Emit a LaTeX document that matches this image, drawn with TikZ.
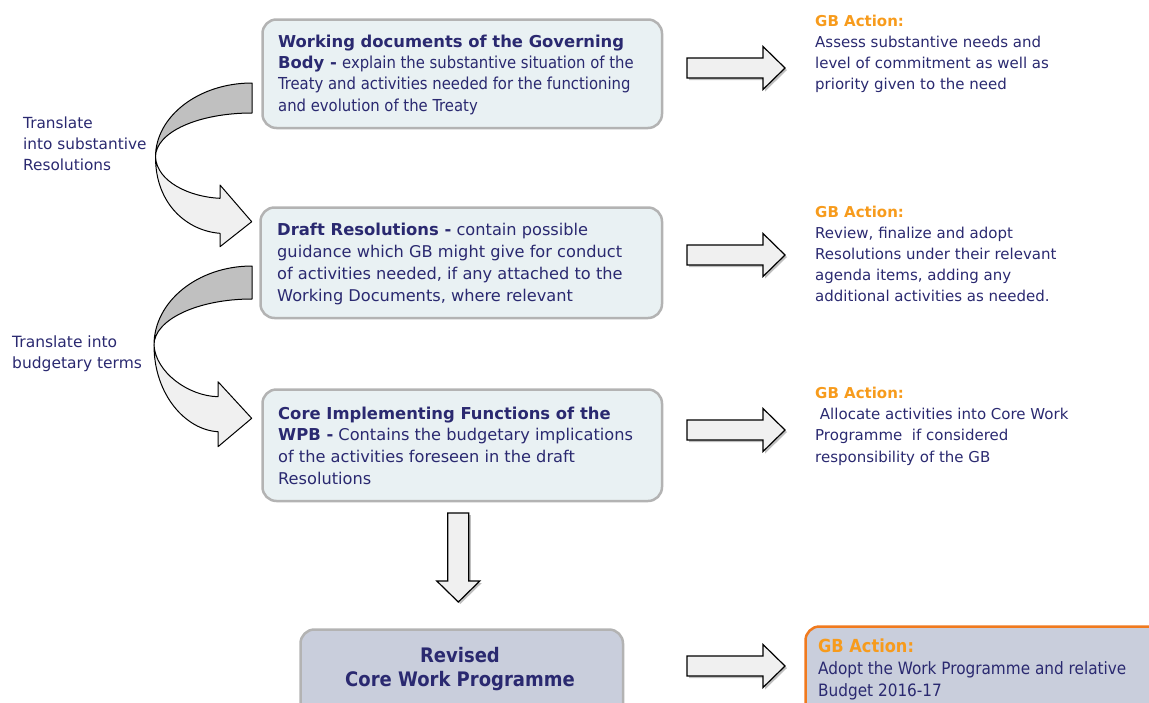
\documentclass[tikz,border=0pt]{standalone}
\usepackage{fontspec}
\setmainfont{DejaVu Sans}
\newfontfamily\cond{DejaVu Sans Condensed}
\definecolor{navy}{HTML}{2A2970}
\definecolor{gbor}{HTML}{F79B1C}
\definecolor{boxfill}{HTML}{E9F1F3}
\definecolor{boxline}{HTML}{B3B3B3}
\definecolor{revfill}{HTML}{C9CEDC}
\definecolor{orangeline}{HTML}{F07A1E}
\definecolor{arrfill}{HTML}{F0F0F0}
\definecolor{bandgray}{HTML}{C0C0C0}
\tikzset{
  box/.style={draw=boxline, line width=2.5pt, fill=boxfill, rounded corners=14pt, inner sep=0pt, anchor=north west},
  txt/.style={inner sep=0pt, anchor=north west, align=left, text=navy},
  blockarrow/.style={draw=black, line width=1.2pt, fill=arrfill, line join=miter},
  arrshadow/.style={fill=black, opacity=0.25},
  band/.style={draw=black, line width=1pt, line join=round},
}
\newcommand{\gb}{\textcolor{gbor}{\textbf{GB Action:}}}
\newcommand{\hb}[1]{{\fontsize{16.4}{21}\selectfont\textbf{#1}}}
\begin{document}
\begin{tikzpicture}[x=1pt,y=-1pt]
\useasboundingbox (0,0) rectangle (1149,702);
\begin{scope}
\clip (0,0) rectangle (1149,702);

% ---- boxes
\node[box, minimum width=399.5, minimum height=108.5] (wd) at (261.25,18.25) {};
\node[box, minimum width=401.5, minimum height=110.5] (dr) at (259.25,206.25) {};
\node[box, minimum width=399.5, minimum height=111.5] (ci) at (261.25,388.25) {};
\node[box, fill=revfill, minimum width=322.5, minimum height=100] (rv) at (299.25,628.25) {};
\node[box, draw=orangeline, fill=revfill, minimum width=360, minimum height=100] (ga) at (804.25,625.25) {};

% ---- box texts
\node[txt, font=\fontsize{16.5}{21.3}\selectfont] (wdt) at (278,33)
 {\rule{0pt}{14pt}\hb{Working documents of the Governing}\\
  \hb{Body -} {\cond explain the substantive situation of the}\\
  {\cond Treaty and activities needed for the functioning}\\
  {\cond and evolution of the Treaty}};
\node[txt, font=\fontsize{16.2}{22}\selectfont] (drt) at (277,221)
 {\rule{0pt}{14pt}\hb{Draft Resolutions -} contain possible\\
  guidance which GB might give for conduct\\
  of activities needed, if any attached to the\\
  Working Documents, where relevant};
\node[txt, font=\fontsize{16.2}{21.7}\selectfont] (cit) at (278,405)
 {\rule{0pt}{14pt}\hb{Core Implementing Functions of the}\\
  \hb{WPB -} Contains the budgetary implications\\
  of the activities foreseen in the draft\\
  Resolutions};
\node[txt, anchor=north, align=center, font=\cond\bfseries\fontsize{20}{24}\selectfont] (rvt) at (460,645)
 {\rule{0pt}{17pt}Revised\\Core Work Programme};

% ---- right texts
\node[txt, font=\fontsize{15}{21}\selectfont] (r1) at (815,13)
 {\rule{0pt}{13pt}\gb\\
  Assess substantive needs and\\
  level of commitment as well as\\
  priority given to the need};
\node[txt, font=\fontsize{15}{21}\selectfont] (r2) at (815,204)
 {\rule{0pt}{13pt}\gb\\
  Review, finalize and adopt\\
  Resolutions under their relevant\\
  agenda items, adding any\\
  additional activities as needed.};
\node[txt, font=\fontsize{15}{21.3}\selectfont] (r3) at (815,385)
 {\rule{0pt}{13pt}\gb\\
  \ Allocate activities into Core Work\\
  Programme\ \ if considered\\
  responsibility of the GB};
\node[txt, font=\cond\fontsize{17}{22}\selectfont] (r4) at (818,637)
 {\rule{0pt}{15pt}{\fontsize{18}{22}\selectfont\gb}\\
  Adopt the Work Programme and relative\\
  Budget 2016-17};

% ---- left labels
\node[txt, font=\fontsize{15.3}{21}\selectfont] (l1) at (23,114)
 {\rule{0pt}{14pt}Translate\\into substantive\\Resolutions};
\node[txt, font=\fontsize{15.5}{21}\selectfont] (l2) at (12,333)
 {\rule{0pt}{14pt}Translate into\\budgetary terms};

% ---- right block arrows
\foreach \c/\n in {68/a1,255/a2,430/a3,666/a4}{
  \coordinate (\n) at (687,\c);
  \fill[arrshadow] ([shift={(2,2)}]\n) ++(0,-10) -- ++(76,0) -- ++(0,-11.5) -- ++(22,21.5) -- ++(-22,21.5) -- ++(0,-11.5) -- ++(-76,0) -- cycle;
  \draw[blockarrow] (\n) ++(0,-10) -- ++(76,0) -- ++(0,-11.5) -- ++(22,21.5) -- ++(-22,21.5) -- ++(0,-11.5) -- ++(-76,0) -- cycle;
}

% ---- down arrow
\coordinate (dn) at (458.3,513);
\fill[arrshadow] ([shift={(2,2)}]dn) ++(-10.5,0) -- ++(21,0) -- ++(0,68) -- ++(11,0) -- ++(-21.5,21) -- ++(-21.5,-21) -- ++(11,0) -- cycle;
\draw[blockarrow] (dn) ++(-10.5,0) -- ++(21,0) -- ++(0,68) -- ++(11,0) -- ++(-21.5,21) -- ++(-21.5,-21) -- ++(11,0) -- cycle;

% ---- curved arrow 1
\draw[band, fill=bandgray] (252,83) .. controls (198.4,83) and (155.5,116.6) .. (155.5,157)
   .. controls (155.5,132.1) and (198.4,113) .. (252,113) -- cycle;
\draw[band, fill=arrfill] (155.5,157) .. controls (155.5,205) and (188,231) .. (220,233.3)
   -- (220,246.7) -- (251.7,221.7) -- (220,185) -- (220,198.3)
   .. controls (190,197) and (157,182) .. (155.5,157) -- cycle;

% ---- curved arrow 2
\draw[band, fill=bandgray] (252,266) .. controls (197.9,266) and (154,301.4) .. (154,345)
   .. controls (154,319.6) and (197.9,299) .. (252,299) -- cycle;
\draw[band, fill=arrfill] (154,345) .. controls (154,395) and (186,430) .. (218,431.7)
   -- (218,446.7) -- (251.7,418.3) -- (218,381.7) -- (218,396.7)
   .. controls (188,396) and (155.5,372) .. (154,345) -- cycle;
\end{scope}
\end{tikzpicture}
\end{document}
